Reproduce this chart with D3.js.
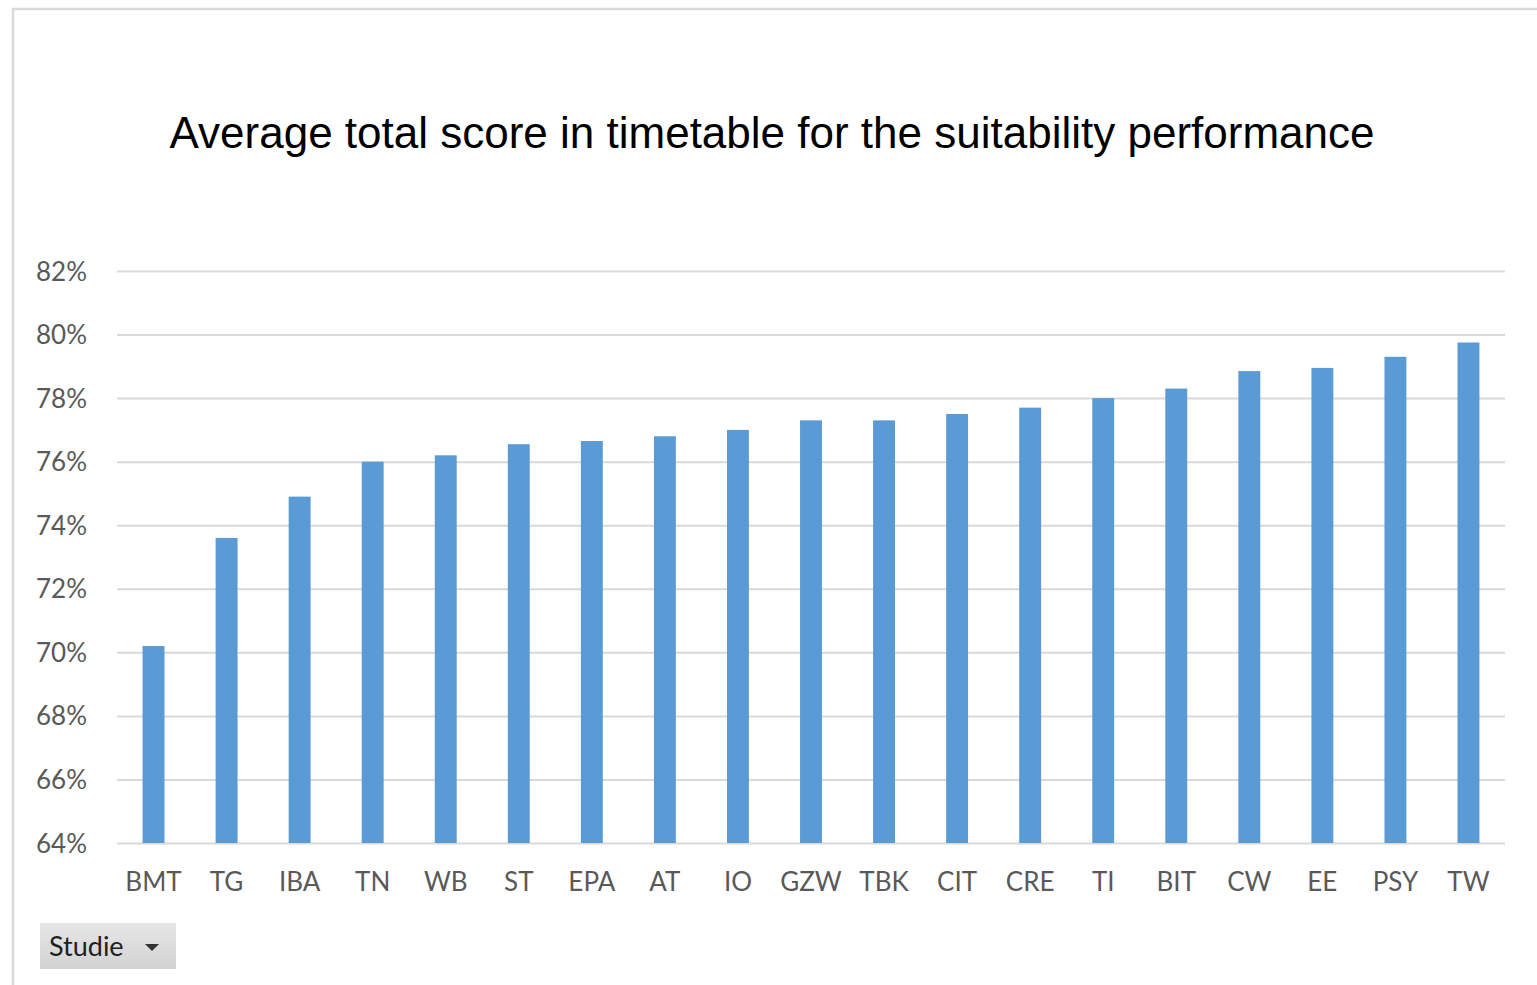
<!DOCTYPE html>
<html>
<head>
<meta charset="utf-8">
<script src="https://cdn.jsdelivr.net/npm/d3@7"></script>
<style>
  body { margin: 0; background: #fff; }
  .axis text { font-family: Lato, "Open Sans", sans-serif; fill: #595959; }
</style>
</head>
<body>
<div id="chart"></div>
<script>
// categories and values (percent)
let studies = ["BMT", "TG", "IBA", "TN", "WB", "ST", "EPA", "AT", "IO", "GZW", "TBK", "CIT", "CRE", "TI", "BIT", "CW", "EE", "PSY", "TW"];
let scores = [70.2, 73.6, 74.9, 76.0, 76.2, 76.55, 76.65, 76.8, 77.0, 77.3, 77.3, 77.5, 77.7, 78.0, 78.3, 78.85, 78.95, 79.3, 79.75];
let yTicks = [64, 66, 68, 70, 72, 74, 76, 78, 80, 82];

let width = 1537, height = 985;
let margin = { top: 271, left: 117, right: 32, bottom: 142 };
let chartWidth = width - margin.left - margin.right;
let chartHeight = height - margin.top - margin.bottom;

let svg = d3.select("#chart")
  .append("svg")
  .attr("width", width)
  .attr("height", height);

// outer frame (right and bottom edges run off the picture)
svg.append("rect")
  .attr("x", 13).attr("y", 9)
  .attr("width", 1540).attr("height", 990)
  .attr("fill", "none")
  .attr("stroke", "#d9d9d9")
  .attr("stroke-width", 2.5);

// title
svg.append("text")
  .text("Average total score in timetable for the suitability performance")
  .attr("x", 772)
  .attr("y", 148)
  .attr("text-anchor", "middle")
  .attr("font-family", "'Liberation Sans', Arial, sans-serif")
  .attr("font-size", 44)
  .attr("fill", "#000");

let xPositionScale = d3.scaleBand()
  .domain(studies)
  .range([0, chartWidth])
  .paddingInner(0.7)
  .paddingOuter(0.35);

let yPositionScale = d3.scaleLinear()
  .domain([64, 82])
  .range([chartHeight, 0]);

let chart = svg.append("g")
  .attr("transform", "translate(" + margin.left + "," + margin.top + ")");

// gridlines + y labels
let yAxis = d3.axisLeft(yPositionScale)
  .tickValues(yTicks)
  .tickSize(-chartWidth)
  .tickPadding(30)
  .tickFormat(d => d + "%");

chart.append("g")
  .attr("class", "axis y-axis")
  .call(yAxis)
  .call(g => g.select(".domain").remove())
  .call(g => g.selectAll("line").attr("stroke", "#d9d9d9").attr("stroke-width", 2))
  .call(g => g.selectAll("text").attr("font-size", 26).attr("dy", "0.35em"));

// bars
chart.selectAll(".bar")
  .data(studies)
  .enter()
  .append("rect")
  .attr("class", "bar")
  .attr("x", d => xPositionScale(d))
  .attr("width", xPositionScale.bandwidth())
  .attr("y", (d, i) => yPositionScale(scores[i]))
  .attr("height", (d, i) => chartHeight - yPositionScale(scores[i]))
  .attr("fill", "#5b9bd5");

// x labels
let xAxis = d3.axisBottom(xPositionScale)
  .tickSize(0)
  .tickPadding(30);

chart.append("g")
  .attr("class", "axis x-axis")
  .attr("transform", "translate(0," + chartHeight + ")")
  .call(xAxis)
  .call(g => g.select(".domain").remove())
  .call(g => g.selectAll("text").attr("font-size", 26));

// Studie field button
let btn = svg.append("g").attr("transform", "translate(40,923)");
let grad = svg.append("defs").append("linearGradient")
  .attr("id", "btnGrad").attr("x1", 0).attr("y1", 0).attr("x2", 0).attr("y2", 1);
grad.append("stop").attr("offset", "0%").attr("stop-color", "#e6e6e6");
grad.append("stop").attr("offset", "100%").attr("stop-color", "#d2d2d2");
btn.append("rect")
  .attr("width", 136).attr("height", 46)
  .attr("fill", "url(#btnGrad)");
btn.append("text")
  .text("Studie")
  .attr("x", 9).attr("y", 33)
  .attr("font-family", "Lato, 'Open Sans', sans-serif")
  .attr("font-size", 27)
  .attr("fill", "#1f1f1f");
btn.append("path")
  .attr("d", "M105,21 L119,21 L112,28 Z")
  .attr("fill", "#333");
</script>
</body>
</html>
